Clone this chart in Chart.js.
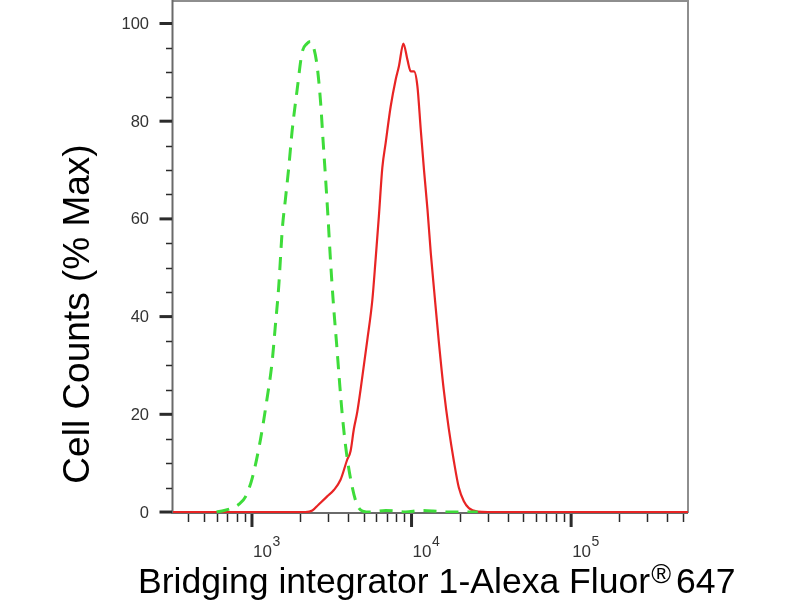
<!DOCTYPE html>
<html>
<head>
<meta charset="utf-8">
<script src="https://cdn.jsdelivr.net/npm/chart.js@4.4.0/dist/chart.umd.min.js"></script>
<style>
  html, body { margin: 0; padding: 0; background: #fff; }
  #wrap { width: 800px; height: 600px; }
</style>
</head>
<body>
<div id="wrap"><canvas id="chart" width="800" height="600"></canvas></div>
<script>
// Control histogram (green, dashed)
const controlX = [600, 670, 750, 830, 910, 1005, 1130, 1240, 1335, 1400, 1470, 1550, 1620, 1700, 1785,
  1920, 2060, 2215, 2325, 2440, 2560, 2690, 2790, 2890, 3000, 3105, 3240, 3390, 3540, 3690,
  3910, 4250, 4570, 4930, 5540, 6890, 7950, 9180, 11400, 13600, 16400, 26000];
const controlY = [0, 0.3, 0.8, 1.6, 3.1, 7, 14.8, 23, 30.5, 38, 46, 58, 64, 70.5, 78,
  86.5, 94, 95.9, 96.3, 95, 91.3, 84, 76, 68.5, 60, 51.5, 42.5, 34.5, 26.5, 19.5,
  12.1, 5.1, 1.4, 0.2, 0, 0.3, 0.2, 0, 0.3, 0.2, 0, 0];

// Bridging integrator 1 stained histogram (red, solid)
const stainedX = [300, 1740, 2160, 2390, 2610, 2960, 3260, 3590, 3950, 4150, 4350, 4570, 4790, 5280, 5680,
  5950, 6240, 6560, 6880, 7400, 7950, 8340, 8890, 9420, 9880, 10360, 10880, 11420, 11970, 12580,
  13200, 13840, 14810, 15920, 17120, 18400, 19780, 21270, 22870, 25930, 30100, 540000];
const stainedY = [0, 0, 0, 0.3, 1.5, 3.2, 4.5, 6.6, 10.7, 12.5, 17, 20.5, 25, 35.2, 43.4,
  51.6, 60.5, 70.5, 75.5, 83, 88.5, 91.3, 95.9, 92.6, 90.2, 90.2, 87.2, 78.3, 70, 62,
  53, 45.5, 35, 25, 17, 10.5, 5, 2.2, 0.8, 0.1, 0, 0];

// Axis ticks
const yMajor = [0, 20, 40, 60, 80, 100];
const yMinor = [5, 10, 15, 25, 30, 35, 45, 50, 55, 65, 70, 75, 85, 90, 95];
const xMajor = [1000, 10000, 100000];
const xMajorExp = ['3', '4', '5'];
const xMinor = [400, 500, 600, 700, 800, 900,
  2000, 3000, 4000, 5000, 6000, 7000, 8000, 9000,
  20000, 30000, 40000, 50000, 60000, 70000, 80000, 90000,
  200000, 300000, 400000, 500000];

const FONT = "'Liberation Sans', Arial, sans-serif";

function toPoints(xs, ys) {
  return xs.map((x, i) => ({ x: x, y: ys[i] }));
}

// frame, ticks, labels and titles
const axesPlugin = {
  id: 'axesPlugin',
  beforeDatasetsDraw(chart) {
    const { ctx, chartArea: a } = chart;
    ctx.save();
    ctx.lineWidth = 2;
    ctx.strokeStyle = '#8e8e8e';
    ctx.beginPath();
    ctx.moveTo(a.left, a.top);
    ctx.lineTo(a.right, a.top);
    ctx.lineTo(a.right, a.bottom);
    ctx.stroke();
    ctx.strokeStyle = '#6a6a6a';
    ctx.beginPath();
    ctx.moveTo(a.left - 0.5, a.top - 1);
    ctx.lineTo(a.left - 0.5, a.bottom);
    ctx.lineTo(a.right, a.bottom);
    ctx.stroke();
    ctx.restore();
  },
  afterDraw(chart) {
    const { ctx, chartArea: a, scales: { x, y } } = chart;
    ctx.save();
    ctx.strokeStyle = '#2b2b2b';

    // y ticks
    ctx.lineWidth = 1.5;
    yMinor.forEach(v => {
      const py = Math.round(y.getPixelForValue(v)) + 0.5;
      ctx.beginPath(); ctx.moveTo(a.left - 7, py); ctx.lineTo(a.left - 1, py); ctx.stroke();
    });
    ctx.lineWidth = 3;
    yMajor.forEach(v => {
      const py = y.getPixelForValue(v);
      ctx.beginPath(); ctx.moveTo(a.left - 13.5, py); ctx.lineTo(a.left - 1, py); ctx.stroke();
    });
    ctx.fillStyle = '#333';
    ctx.font = '16.5px ' + FONT;
    ctx.textAlign = 'right';
    ctx.textBaseline = 'middle';
    yMajor.forEach(v => {
      ctx.fillText(String(v), a.left - 24, y.getPixelForValue(v) + 1);
    });

    // x ticks
    ctx.lineWidth = 1.5;
    xMinor.forEach(v => {
      const px = Math.round(x.getPixelForValue(v)) + 0.5;
      ctx.beginPath(); ctx.moveTo(px, a.bottom + 1); ctx.lineTo(px, a.bottom + 9); ctx.stroke();
    });
    ctx.lineWidth = 3;
    xMajor.forEach(v => {
      const px = x.getPixelForValue(v);
      ctx.beginPath(); ctx.moveTo(px, a.bottom + 1); ctx.lineTo(px, a.bottom + 14); ctx.stroke();
    });
    ctx.textAlign = 'left';
    ctx.textBaseline = 'alphabetic';
    xMajor.forEach((v, i) => {
      const px = x.getPixelForValue(v) + 1;
      ctx.font = '17px ' + FONT;
      ctx.fillText('10', px, a.bottom + 44);
      const w = ctx.measureText('10').width;
      ctx.font = '14px ' + FONT;
      ctx.fillText(xMajorExp[i], px + w + 0.5, a.bottom + 33);
    });

    // axis titles
    ctx.fillStyle = '#000';
    ctx.font = '37px ' + FONT;
    ctx.save();
    ctx.translate(89, 314);
    ctx.rotate(-Math.PI / 2);
    ctx.textAlign = 'center';
    ctx.fillText('Cell Counts (% Max)', 0, 0);
    ctx.restore();

    let tx = 138;
    const ty = 593;
    ctx.font = '35.6px ' + FONT;
    const t1 = 'Bridging integrator 1-Alexa Fluor';
    ctx.fillText(t1, tx, ty);
    tx += ctx.measureText(t1).width + 1;
    ctx.font = '27px ' + FONT;
    ctx.fillText('\u00AE', tx, ty - 10);
    tx += ctx.measureText('\u00AE').width + 5;
    ctx.font = '35.6px ' + FONT;
    ctx.fillText('647', tx, ty);
    ctx.restore();
  }
};

new Chart(document.getElementById('chart'), {
  type: 'line',
  data: {
    datasets: [
      {
        label: 'Control',
        data: toPoints(controlX, controlY),
        borderColor: 'rgb(62, 220, 58)',
        borderWidth: 3,
        borderDash: [13, 9],
        pointRadius: 0,
        fill: false,
        cubicInterpolationMode: 'monotone'
      },
      {
        label: 'Bridging integrator 1',
        data: toPoints(stainedX, stainedY),
        borderColor: 'rgb(232, 36, 36)',
        borderWidth: 2.2,
        pointRadius: 0,
        fill: false,
        cubicInterpolationMode: 'monotone'
      }
    ]
  },
  options: {
    responsive: false,
    animation: false,
    layout: { padding: { top: 1, right: 112, left: 0, bottom: 0 } },
    plugins: {
      legend: { display: false },
      tooltip: { enabled: false }
    },
    scales: {
      x: {
        type: 'logarithmic',
        min: 320,
        max: 540000,
        grid: { display: false },
        border: { display: false },
        ticks: { display: false },
        afterFit(scale) { scale.height = 87; }
      },
      y: {
        type: 'linear',
        min: -0.2,
        max: 104.6,
        grid: { display: false },
        border: { display: false },
        ticks: { display: false },
        afterFit(scale) { scale.width = 173; }
      }
    }
  },
  plugins: [axesPlugin]
});
</script>
</body>
</html>
